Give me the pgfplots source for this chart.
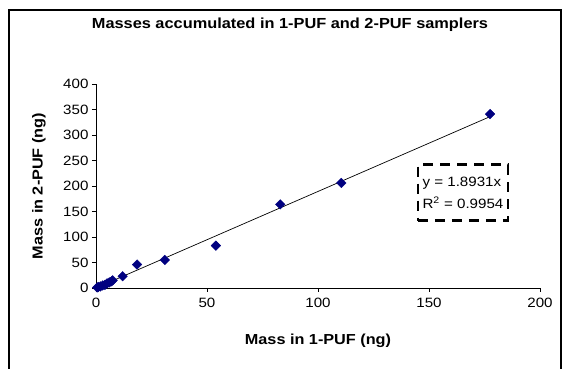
\documentclass[border=0pt]{standalone}
\usepackage{pgfplots}
\pgfplotsset{compat=1.18}
\usepackage{fontspec}
\setmainfont{Liberation Sans}[FakeStretch=1.12]
\definecolor{navy}{RGB}{0,0,128}
\begin{document}
\begin{tikzpicture}[x=1pt,y=1pt]
\path[use as bounding box] (-96,-81) rectangle (467,288);
\draw[line width=1.2pt] (-87,-90) -- (-87,278) -- (465,278) -- (465,-90);
\begin{axis}[
  at={(0,0)}, anchor=origin,
  scale only axis, width=444pt, height=204pt,
  xmin=0, xmax=200, ymin=0, ymax=400,
  xtick={0,50,...,200}, ytick={0,50,...,400},
  axis lines=left, axis line style={-, line width=0.7pt},
  tick align=outside, major tick length=4pt,
  tick style={line width=0.7pt, black},
  /pgf/number format/assume math mode=true,
  ticklabel style={font=\fontsize{13.5}{15}\selectfont},
  xticklabel style={yshift=-3pt},
  xlabel={\bfseries Mass in 1-PUF (ng)},
  ylabel={\bfseries Mass in 2-PUF (ng)},
  label style={font=\fontsize{14.5}{15}\selectfont},
  xlabel style={at={(axis description cs:0.5,0)}, anchor=center, yshift=-53pt},
  ylabel style={at={(axis description cs:0,0.5)}, anchor=center, yshift=57pt},
  title={\bfseries Masses accumulated in 1-PUF and 2-PUF samplers},
  title style={font=\fontsize{14.6}{15}\selectfont, at={(axis description cs:0.5,1)}, anchor=center, yshift=53pt, xshift=-28pt},
  clip=false,
]
\addplot[black, line width=0.7pt] coordinates {(0,0) (178,336.97)};
\addplot[only marks, mark=square*, mark size=3.4pt, mark options={rotate=45}, color=navy] coordinates {
(0.5,1) (1,2) (2,3) (3,5) (4,6) (5,9) (6,11) (7,13) (7.5,15)
(12,23) (18.5,46) (31,55) (54,83) (83,164) (110.5,206) (177.5,341)
};
\node[draw, dash pattern=on 10pt off 7pt, line width=2.5pt, minimum width=90pt, minimum height=56pt,
  align=left, font=\fontsize{13.5}{22}\selectfont, inner sep=2pt] at (axis cs:165.3,187) {y = 1.8931x\\R\textsuperscript{2} = 0.9954};
\end{axis}
\end{tikzpicture}
\end{document}
